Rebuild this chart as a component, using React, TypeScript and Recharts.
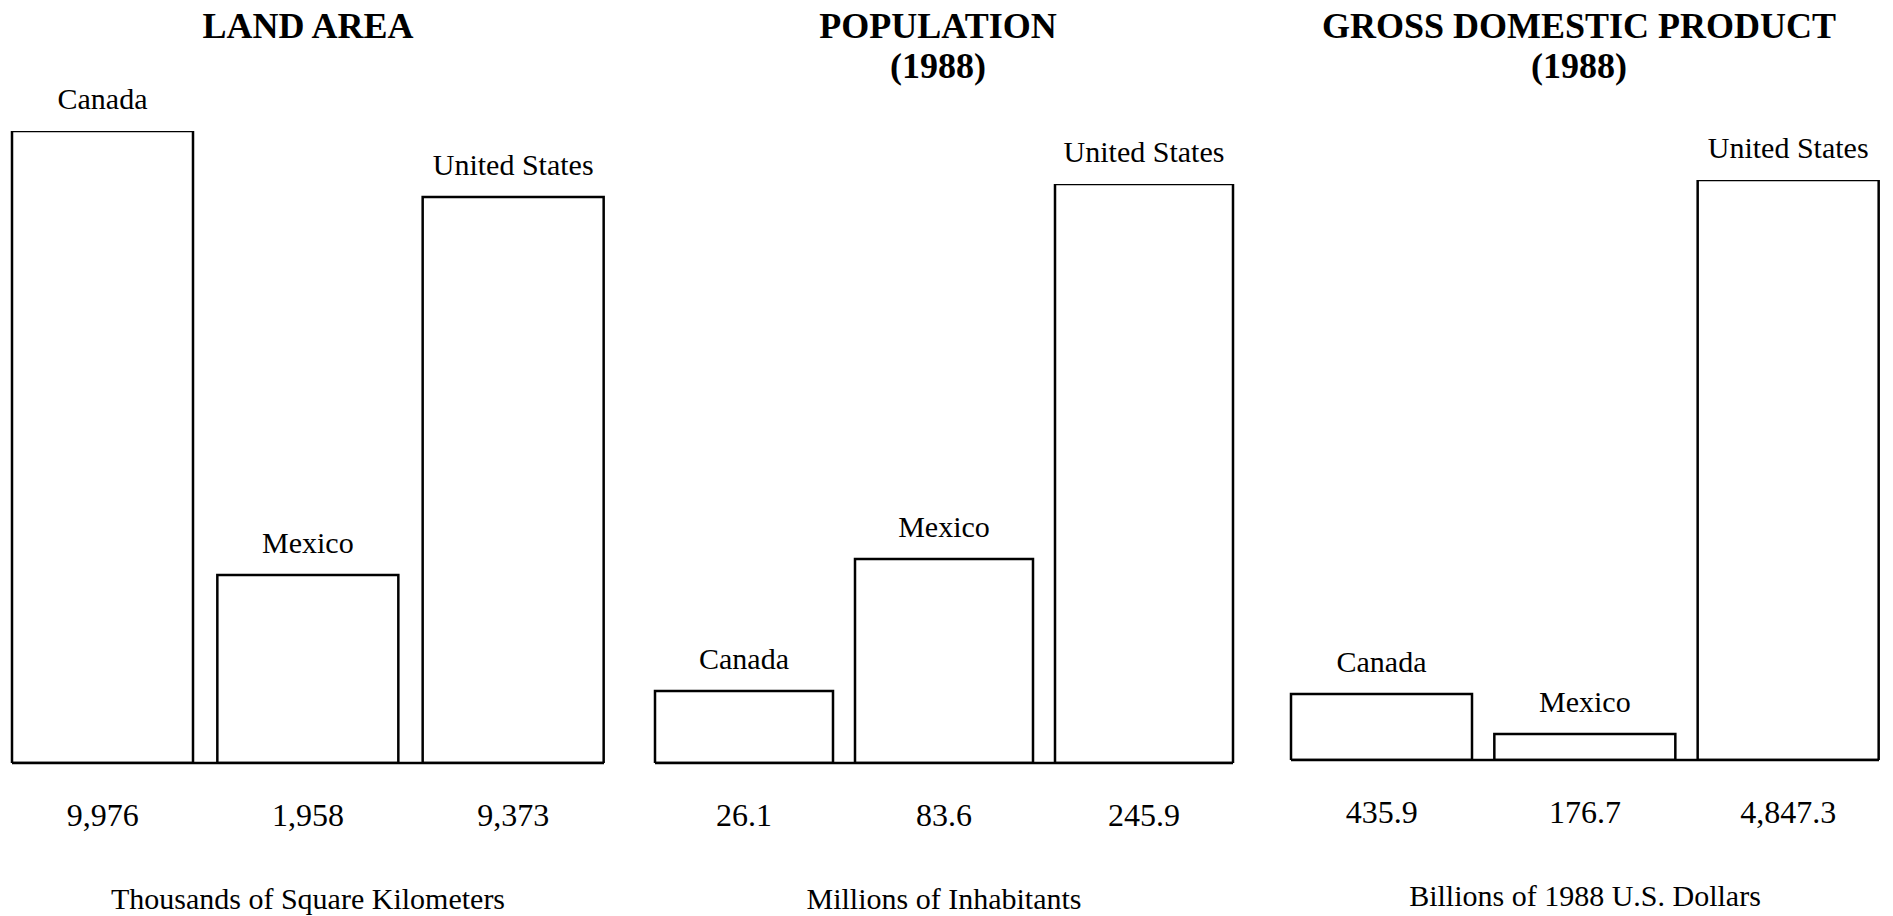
import React from 'react';
import { BarChart, Bar, XAxis, YAxis, LabelList } from 'recharts';

const FONT = '"Liberation Serif", "Times New Roman", Times, serif';

const countries = ['Canada', 'Mexico', 'United States'];

// The source bars are not drawn to scale, so the heights are read off the
// picture (in each panel's own units); the printed figures are the ticks.
const landHeights = [9976, 2968, 8934];
const landTicks = ['9,976', '1,958', '9,373'];

const popHeights = [30.6, 86.6, 245.9];
const popTicks = ['26.1', '83.6', '245.9'];

const gdpHeights = [552, 217, 4847.3];
const gdpTicks = ['435.9', '176.7', '4,847.3'];

const panels = [
  {
    title: ['LAND AREA'],
    unit: 'Thousands of Square Kilometers',
    heights: landHeights,
    ticks: landTicks,
    max: 9976,
    left: 0,
    width: 640,
    pad: 12,
    margin: { top: 131, left: 12, right: 36, bottom: 13 },
    titleX: 308,
  },
  {
    title: ['POPULATION', '(1988)'],
    unit: 'Millions of Inhabitants',
    heights: popHeights,
    ticks: popTicks,
    max: 245.9,
    left: 640,
    width: 620,
    pad: 11,
    margin: { top: 184, left: 15, right: 27, bottom: 13 },
    titleX: 938,
  },
  {
    title: ['GROSS DOMESTIC PRODUCT', '(1988)'],
    unit: 'Billions of 1988 U.S. Dollars',
    heights: gdpHeights,
    ticks: gdpTicks,
    max: 4847.3,
    left: 1260,
    width: 633,
    pad: 11,
    margin: { top: 180, left: 31, right: 14, bottom: 16 },
    titleX: 1579,
  },
];

const Panel = ({ p }: { p: (typeof panels)[number] }) => {
  const data = countries.map((name, i) => ({ name, value: p.heights[i], tick: p.ticks[i] }));

  return (
    <>
      <div
        style={{
          position: 'absolute',
          left: p.titleX - 300,
          top: 6,
          width: 600,
          textAlign: 'center',
          fontWeight: 'bold',
          fontSize: 36,
          lineHeight: '40px',
          color: '#000',
        }}
      >
        {p.title.map((t) => (
          <div key={t}>{t}</div>
        ))}
      </div>
      <div style={{ position: 'absolute', left: p.left, top: 0 }}>
        <BarChart width={p.width} height={916} data={data} margin={p.margin} barCategoryGap={p.pad}>
          <XAxis
            dataKey="tick"
            interval={0}
            height={140}
            padding={{ left: -p.pad, right: -p.pad }}
            tickLine={false}
            tickMargin={34}
            axisLine={{ stroke: '#000', strokeWidth: 2.5 }}
            tick={{ fill: '#000', fontSize: 32, style: { fontFamily: FONT } }}
            label={{
              value: p.unit,
              position: 'insideBottom',
              offset: -6,
              fill: '#000',
              fontSize: 30,
              style: { fontFamily: FONT },
            }}
          />
          <YAxis hide domain={[0, p.max]} allowDataOverflow />
          <Bar dataKey="value" fill="#fff" stroke="#000" strokeWidth={2.5} isAnimationActive={false}>
            <LabelList
              dataKey="name"
              position="top"
              offset={22}
              fill="#000"
              fontSize={30}
              style={{ fontFamily: FONT }}
            />
          </Bar>
        </BarChart>
      </div>
    </>
  );
};

export default function App() {
  return (
    <div
      style={{
        position: 'absolute',
        left: 0,
        top: 0,
        width: 1893,
        height: 916,
        background: '#fff',
        overflow: 'hidden',
        fontFamily: FONT,
      }}
    >
      {panels.map((p) => (
        <Panel key={p.unit} p={p} />
      ))}
    </div>
  );
}
